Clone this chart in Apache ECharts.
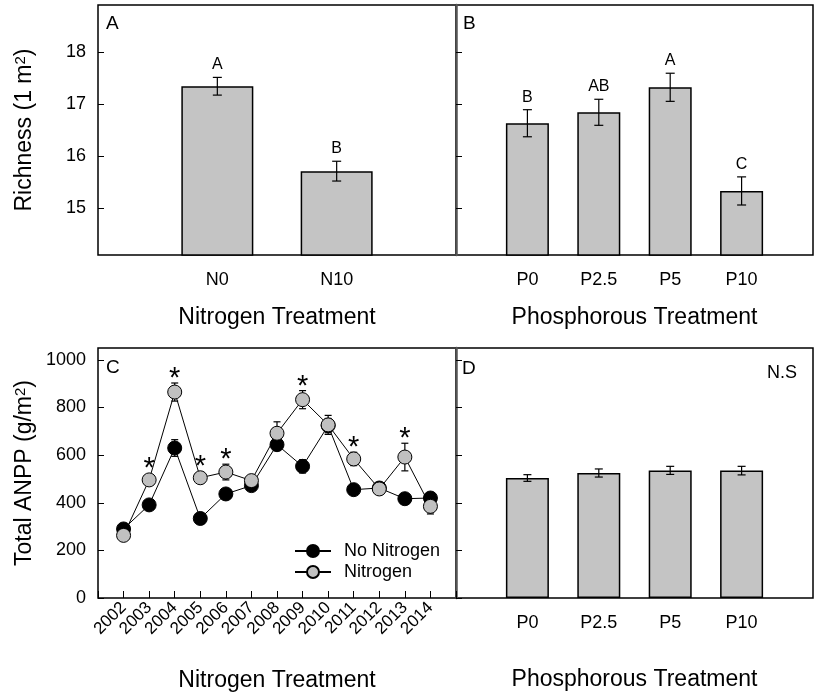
<!DOCTYPE html>
<html><head><meta charset="utf-8">
<script src="https://cdn.jsdelivr.net/npm/echarts@6/dist/echarts.min.js"></script>
<style>html,body{margin:0;padding:0;background:#fff}#c{width:817px;height:698px}</style>
</head><body><div id="c"></div>
<script>
// ---- data ----
const nCats = ['N0', 'N10'];
const nRich = [17.34, 15.71];
const nRichSE = [0.17, 0.19];
const nLetters = ['A', 'B'];

const pCats = ['P0', 'P2.5', 'P5', 'P10'];
const pRich = [16.63, 16.84, 17.32, 15.33];
const pRichSE = [0.26, 0.25, 0.27, 0.27];
const pLetters = ['B', 'AB', 'A', 'C'];

const years = ['2002','2003','2004','2005','2006','2007','2008','2009','2010','2011','2012','2013','2014'];
const anppNoN = [290, 391, 630, 334, 437, 472, 644, 553, 724, 455, 462, 417, 420];
const anppNoNSE = [10, 12, 35, 12, 15, 12, 25, 28, 30, 15, 15, 15, 15];
const anppN = [263, 496, 865, 505, 529, 493, 692, 833, 727, 584, 458, 592, 385];
const anppNSE = [10, 15, 38, 15, 33, 15, 48, 38, 40, 28, 22, 58, 32];
const sigYears = ['2003','2004','2005','2006','2009','2011','2013'];

const pAnpp = [504, 525, 536, 535];
const pAnppSE = [14, 17, 17, 18];

const richTicks = [15, 16, 17, 18];
const anppTicks = [0, 200, 400, 600, 800, 1000];

// ---- helpers ----
const FONT = 'Liberation Sans, Arial, sans-serif';
const pad = a => ['', ...a, ''];
const padV = a => ['-', ...a, '-'];
const BAR = {color: '#c4c4c4', borderColor: '#000', borderWidth: 1.5};

function errSeries(xi, yi, means, ses, capHalf, letters, z) {
  const rows = means.map((m, i) => [i + 1, m, ses[i]]);
  return {
    type: 'custom', xAxisIndex: xi, yAxisIndex: yi, z: z || 4, silent: true,
    data: rows,
    renderItem: (params, api) => {
      const i = api.value(0), m = api.value(1), s = api.value(2);
      const t = api.coord([i, m + s]), b = api.coord([i, m - s]);
      const st = {stroke: '#000', lineWidth: 1.2};
      const ch = [
        {type: 'line', shape: {x1: t[0], y1: t[1], x2: b[0], y2: b[1]}, style: st},
        {type: 'line', shape: {x1: t[0] - capHalf, y1: t[1], x2: t[0] + capHalf, y2: t[1]}, style: st},
        {type: 'line', shape: {x1: b[0] - capHalf, y1: b[1], x2: b[0] + capHalf, y2: b[1]}, style: st}
      ];
      if (letters) {
        ch.push({type: 'text', style: {text: letters[params.dataIndex], x: t[0], y: t[1] - 12.5,
          align: 'center', verticalAlign: 'middle', fontSize: 16, fontFamily: FONT, fill: '#000'}});
      }
      return {type: 'group', children: ch};
    }
  };
}

const yNameStyle = {fontFamily: FONT, color: '#000', rich: {
  t: {fontSize: 23, fontFamily: FONT, color: '#000'},
  s: {fontSize: 15, fontFamily: FONT, color: '#000', verticalAlign: 'top', lineHeight: 12}}};

function yAxisGen(gi, showLabels, name, min, max, ticks) {
  const ax = {
    type: 'value', gridIndex: gi, min: min, max: max,
    splitLine: {show: false},
    axisLine: showLabels ? {show: false} : {show: true, lineStyle: {color: '#555', width: 2.5}},
    axisTick: {show: true, inside: true, length: 6, customValues: ticks, lineStyle: {color: '#000', width: 1}},
    axisLabel: {show: showLabels, customValues: ticks, fontSize: 18, margin: 12, color: '#000', fontFamily: FONT,
      formatter: v => String(v)}
  };
  if (name) {
    ax.name = name; ax.nameLocation = 'middle'; ax.nameGap = 62;
    ax.nameTextStyle = yNameStyle;
  }
  return ax;
}
function xCat(gi, cats, name, nameGap, extra) {
  return Object.assign({
    type: 'category', gridIndex: gi, data: pad(cats), boundaryGap: false,
    axisLine: {show: false}, axisTick: {show: false},
    axisLabel: {interval: 0, fontSize: 18, margin: 16, color: '#000', fontFamily: FONT},
    name: name, nameLocation: 'middle', nameGap: nameGap,
    nameTextStyle: {fontSize: 23, color: '#000', fontFamily: FONT}
  }, extra || {});
}

const gridStyle = {show: true, borderColor: '#000', borderWidth: 1.5, backgroundColor: 'transparent', containLabel: false};

const option = {
  animation: false,
  textStyle: {fontFamily: FONT},
  grid: [
    Object.assign({left: 98, top: 5, width: 358, height: 250}, gridStyle),
    Object.assign({left: 456, top: 5, width: 357, height: 250}, gridStyle),
    Object.assign({left: 98, top: 348, width: 358, height: 250}, gridStyle),
    Object.assign({left: 456, top: 348, width: 357, height: 250}, gridStyle)
  ],
  xAxis: [
    xCat(0, nCats, 'Nitrogen Treatment', 51),
    xCat(1, pCats, 'Phosphorous Treatment', 51),
    xCat(2, years, 'Nitrogen Treatment', 71, {
      axisTick: {show: true, inside: true, length: 7, interval: 0, lineStyle: {color: '#000'}},
      axisLabel: {interval: 0, rotate: 45, fontSize: 17, margin: 7, color: '#000', fontFamily: FONT}
    }),
    xCat(3, pCats, 'Phosphorous Treatment', 70)
  ],
  yAxis: [
    yAxisGen(0, true, '{t|Richness (1 m}{s|2}{t|)}', 14.1, 18.9, richTicks),
    yAxisGen(1, false, null, 14.1, 18.9, richTicks),
    yAxisGen(2, true, '{t|Total ANPP (g/m}{s|2}{t|)}', 0, 1050, anppTicks),
    yAxisGen(3, false, null, 0, 1050, anppTicks)
  ],
  legend: {
    orient: 'vertical', left: 289, top: 537, itemWidth: 36, itemHeight: 15, itemGap: 3,
    textStyle: {fontSize: 18, color: '#000', fontFamily: FONT, padding: [0, 0, 0, 8]},
    data: ['No Nitrogen', 'Nitrogen']
  },
  graphic: [
    {type: 'text', left: 106, top: 14, style: {text: 'A', fontSize: 19, fill: '#000', fontFamily: FONT}},
    {type: 'text', left: 463, top: 14, style: {text: 'B', fontSize: 19, fill: '#000', fontFamily: FONT}},
    {type: 'text', left: 106, top: 358, style: {text: 'C', fontSize: 19, fill: '#000', fontFamily: FONT}},
    {type: 'text', left: 462, top: 359, style: {text: 'D', fontSize: 19, fill: '#000', fontFamily: FONT}},
    {type: 'text', left: 767, top: 364, style: {text: 'N.S', fontSize: 18, fill: '#000', fontFamily: FONT}}
  ],
  series: [
    {type: 'bar', xAxisIndex: 0, yAxisIndex: 0, data: padV(nRich), barWidth: 72, itemStyle: BAR, z: 2, silent: true},
    errSeries(0, 0, nRich, nRichSE, 4.5, nLetters),
    {type: 'bar', xAxisIndex: 1, yAxisIndex: 1, data: padV(pRich), barWidth: 43, itemStyle: BAR, z: 2, silent: true},
    errSeries(1, 1, pRich, pRichSE, 4.5, pLetters),
    {type: 'bar', xAxisIndex: 3, yAxisIndex: 3, data: padV(pAnpp), barWidth: 43, itemStyle: BAR, z: 2, silent: true},
    errSeries(3, 3, pAnpp, pAnppSE, 4, null),
    errSeries(2, 2, anppNoN, anppNoNSE, 3.5, null, 2),
    errSeries(2, 2, anppN, anppNSE, 3.5, null, 2),
    {name: 'No Nitrogen', type: 'line', xAxisIndex: 2, yAxisIndex: 2, data: padV(anppNoN), z: 5,
      symbol: 'circle', symbolSize: 14, showAllSymbol: true, connectNulls: false,
      lineStyle: {color: '#000', width: 1}, itemStyle: {color: '#000', borderColor: '#000', borderWidth: 1}},
    {name: 'Nitrogen', type: 'line', xAxisIndex: 2, yAxisIndex: 2, data: padV(anppN), z: 6,
      symbol: 'circle', symbolSize: 14, showAllSymbol: true,
      lineStyle: {color: '#000', width: 1}, itemStyle: {color: '#c0c0c0', borderColor: '#000', borderWidth: 1}},
    {
      type: 'custom', xAxisIndex: 2, yAxisIndex: 2, z: 7, silent: true,
      data: sigYears.map(y => { const i = years.indexOf(y); return [i + 1, anppN[i], anppNSE[i]]; }),
      renderItem: (params, api) => {
        const i = api.value(0), m = api.value(1), s = api.value(2);
        const pm = api.coord([i, m]), pt = api.coord([i, m + s]);
        const cy = Math.min(pm[1] - 19, pt[1] - 12);
        return {type: 'text', style: {text: '*', x: pm[0], y: cy + 8, align: 'center', verticalAlign: 'middle',
          fontSize: 29, fontFamily: FONT, fill: '#000'}};
      }
    }
  ]
};
const chart = echarts.init(document.getElementById('c'), null, {renderer: 'canvas'});
chart.setOption(option);
</script>
</body></html>
